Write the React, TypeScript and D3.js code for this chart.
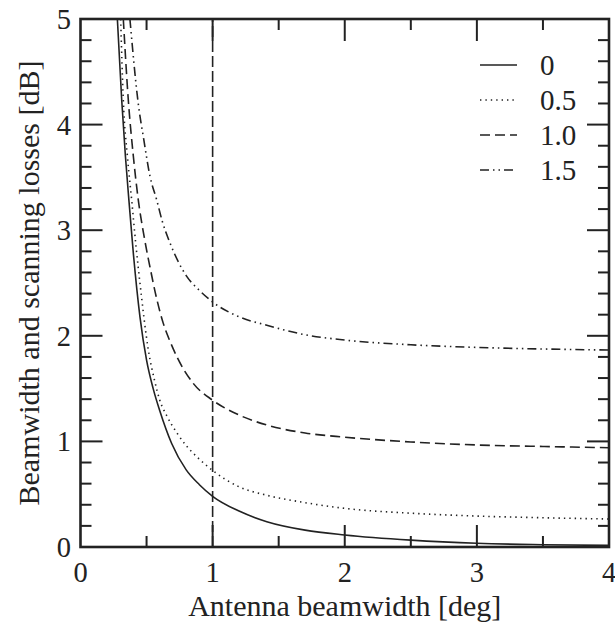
import React from "react";
import * as d3 from "d3";

const xTicks = [0, 1, 2, 3, 4];
const yTicks = [0, 1, 2, 3, 4, 5];
const legendLabels = ["0", "0.5", "1.0", "1.5"];

const x0 = [0.279, 0.312, 0.34, 0.366, 0.4, 0.45, 0.5, 0.55, 0.6, 0.69, 0.8, 0.9, 1.0, 1.2, 1.41, 1.7, 2.0, 2.5, 3.0, 3.5, 4.0];
const y0 = [5, 4.23, 3.7, 3.29, 2.78, 2.18, 1.77, 1.5, 1.29, 0.98, 0.73, 0.59, 0.48, 0.34, 0.24, 0.16, 0.114, 0.065, 0.035, 0.022, 0.015];

const x05 = [0.304, 0.324, 0.355, 0.387, 0.42, 0.45, 0.513, 0.56, 0.6, 0.65, 0.73, 0.8, 0.88, 1.0, 1.2, 1.41, 1.7, 2.0, 2.5, 3.0, 3.5, 4.0];
const y05 = [5, 4.23, 3.7, 3.29, 2.85, 2.5, 1.87, 1.58, 1.39, 1.25, 1.08, 0.96, 0.855, 0.725, 0.57, 0.49, 0.42, 0.366, 0.32, 0.293, 0.277, 0.265];

const x10 = [0.324, 0.362, 0.4, 0.437, 0.48, 0.526, 0.575, 0.626, 0.68, 0.73, 0.853, 1.0, 1.2, 1.41, 1.7, 2.0, 2.5, 3.0, 3.5, 4.0];
const y10 = [5, 4.23, 3.7, 3.29, 2.95, 2.65, 2.36, 2.12, 1.94, 1.8, 1.55, 1.39, 1.25, 1.155, 1.08, 1.04, 0.995, 0.966, 0.952, 0.94];

const x15 = [0.374, 0.437, 0.48, 0.526, 0.576, 0.62, 0.677, 0.8, 0.9, 1.0, 1.2, 1.41, 1.7, 2.0, 2.5, 3.0, 3.5, 4.0];
const y15 = [5, 4.2, 3.85, 3.51, 3.29, 3.08, 2.88, 2.57, 2.43, 2.32, 2.18, 2.1, 2.01, 1.96, 1.915, 1.89, 1.875, 1.865];

const markerX = [1];

const W = 615;
const H = 623;
const L = 80.5;
const R = 609;
const T = 19;
const B = 547;

const FONT = '"Liberation Serif", "Times New Roman", Times, serif';

export default function App() {
  const xs = d3.scaleLinear().domain([0, 4]).range([L, R]);
  const ys = d3.scaleLinear().domain([0, 5]).range([B, T]);

  const series = [
    { xv: x0, yv: y0, dash: "none" },
    { xv: x05, yv: y05, dash: "1.4,4" },
    { xv: x10, yv: y10, dash: "10,5" },
    { xv: x15, yv: y15, dash: "9,4,1.5,4,1.5,4" },
  ];

  const line = d3
    .line<[number, number]>()
    .x((d) => xs(d[0]))
    .y((d) => ys(d[1]))
    .curve(d3.curveMonotoneX);

  const xMinor = d3.range(0.5, 4, 1);
  const yMinor = d3.range(0, 5.001, 0.2).filter((v) => Math.abs(v - Math.round(v)) > 1e-6);
  const MAJ = 22;
  const MIN = 11;

  return (
    <svg
      width={W}
      height={H}
      style={{ position: "absolute", left: 0, top: 0, background: "#fff", fontFamily: FONT }}
    >
      <defs>
        <clipPath id="plot">
          <rect x={L} y={T} width={R - L} height={B - T} />
        </clipPath>
      </defs>
      <rect x={0} y={0} width={W} height={H} fill="#fff" />

      {/* curves */}
      <g clipPath="url(#plot)">
        {series.map((s, i) => (
          <path
            key={i}
            d={line(s.xv.map((v, j) => [v, s.yv[j]] as [number, number])) || ""}
            fill="none"
            stroke="#222"
            strokeWidth={1.6}
            strokeDasharray={s.dash}
          />
        ))}
        {markerX.map((m) => (
          <line
            key={m}
            x1={xs(m)}
            x2={xs(m)}
            y1={ys(0)}
            y2={ys(5)}
            stroke="#222"
            strokeWidth={1.6}
            strokeDasharray="11,4"
          />
        ))}
      </g>

      {/* ticks */}
      <g stroke="#222" strokeWidth={2}>
        {xTicks.slice(1, -1).map((t) => (
          <g key={"xm" + t}>
            <line x1={xs(t)} x2={xs(t)} y1={B} y2={B - MAJ} />
            <line x1={xs(t)} x2={xs(t)} y1={T} y2={T + MAJ} />
          </g>
        ))}
        {xMinor.map((t) => (
          <g key={"xn" + t}>
            <line x1={xs(t)} x2={xs(t)} y1={B} y2={B - MIN} />
            <line x1={xs(t)} x2={xs(t)} y1={T} y2={T + MIN} />
          </g>
        ))}
        {yTicks.slice(1, -1).map((t) => (
          <g key={"ym" + t}>
            <line x1={L} x2={L + MAJ} y1={ys(t)} y2={ys(t)} />
            <line x1={R} x2={R - MAJ} y1={ys(t)} y2={ys(t)} />
          </g>
        ))}
        {yMinor.map((t) => (
          <g key={"yn" + t.toFixed(1)}>
            <line x1={L} x2={L + MIN} y1={ys(t)} y2={ys(t)} />
            <line x1={R} x2={R - MIN} y1={ys(t)} y2={ys(t)} />
          </g>
        ))}
      </g>

      {/* frame */}
      <rect x={L} y={T} width={R - L} height={B - T} fill="none" stroke="#222" strokeWidth={2.6} />

      {/* tick labels */}
      <g fontSize={28.5} fill="#222" style={{ fontFamily: FONT }}>
        {xTicks.map((t) => (
          <text key={"xl" + t} x={xs(t)} y={582} textAnchor="middle">
            {t}
          </text>
        ))}
        {yTicks.map((t) => (
          <text key={"yl" + t} x={71} y={ys(t) + 10} textAnchor="end">
            {t}
          </text>
        ))}
      </g>

      {/* axis titles */}
      <text x={(L + R) / 2} y={616} textAnchor="middle" fontSize={30} fill="#222" style={{ fontFamily: FONT }}>
        Antenna beamwidth [deg]
      </text>
      <text
        transform={`translate(39, ${(T + B) / 2}) rotate(-90)`}
        textAnchor="middle"
        fontSize={30}
        fill="#222"
        style={{ fontFamily: FONT }}
      >
        Beamwidth and scanning losses [dB]
      </text>

      {/* legend */}
      <g>
        {series.map((s, i) => {
          const yy = 65 + i * 35;
          return (
            <g key={"lg" + i}>
              <line x1={480} x2={517} y1={yy} y2={yy} stroke="#222" strokeWidth={1.6} strokeDasharray={s.dash} />
              <text x={540} y={yy + 10} fontSize={29} fill="#222" style={{ fontFamily: FONT }}>
                {legendLabels[i]}
              </text>
            </g>
          );
        })}
      </g>
    </svg>
  );
}
